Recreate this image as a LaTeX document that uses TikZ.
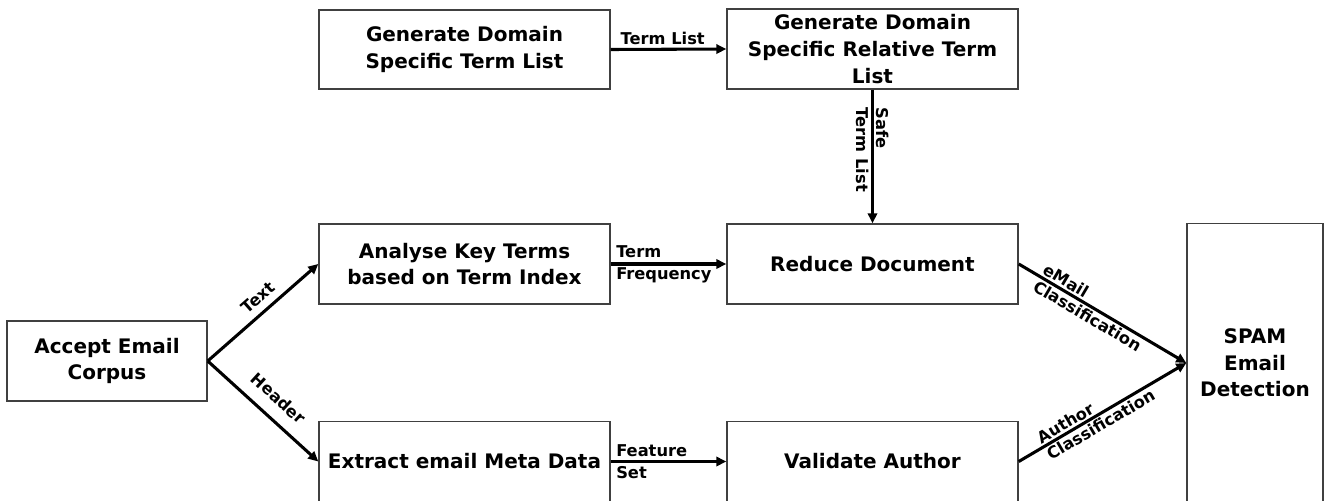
\documentclass[tikz,border=0pt]{standalone}
\usepackage{fontspec}
\setmainfont{DejaVu Sans}
\usetikzlibrary{arrows.meta}

\tikzset{
  procbox/.style={draw=black!75, line width=1.1pt, fill=white, inner sep=0pt,
    align=center, font=\fontsize{15}{20}\selectfont\bfseries},
  flow/.style={line width=2.3pt, -{Triangle[length=7.5pt,width=7pt]}},
  lbl/.style={font=\fontsize{12.2}{16.5}\selectfont\bfseries, inner sep=1pt},
  tightlbl/.style={lbl, font=\fontsize{12.2}{14.5}\selectfont\bfseries}
}

\begin{document}
\begin{tikzpicture}[x=0.75pt, y=-0.75pt]
  \useasboundingbox (0,0) rectangle (1327,500);

  % process boxes
  \node[procbox, minimum width=218.25pt, minimum height=59.25pt] (gdom) at (464.5,49.5)
    {Generate Domain\\Specific Term List};
  \node[procbox, minimum width=218.25pt, minimum height=60pt] (grel) at (872.5,49)
    {Generate Domain\\Specific Relative Term\\List};
  \node[procbox, minimum width=218.25pt, minimum height=60pt] (anal) at (464.5,264)
    {Analyse Key Terms\\based on Term Index};
  \node[procbox, minimum width=218.25pt, minimum height=60pt] (red) at (872.5,264)
    {Reduce Document};
  \node[procbox, minimum width=150pt, minimum height=60pt] (acc) at (107,361)
    {Accept Email\\Corpus};
  \node[procbox, minimum width=218.25pt, minimum height=60pt] (ext) at (464.5,461.5)
    {Extract email Meta Data};
  \node[procbox, minimum width=218.25pt, minimum height=60pt] (val) at (872.5,461.5)
    {Validate Author};
  \node[procbox, minimum width=102pt, minimum height=209pt] (spam) at (1255,363)
    {SPAM\\Email\\Detection};

  % connectors
  \draw[flow] (gdom.east) -- node[lbl, above=1pt, pos=0.45] {Term List} (grel.west);
  \draw[flow] (grel.south) -- node[tightlbl, rotate=-90, align=left, pos=0.45] {Safe\\Term List} (red.north);
  \draw[flow] (anal.east) -- node[lbl, right=2pt, align=left, pos=0] {Term\\Frequency} (red.west);
  \draw[flow] (ext.east) -- node[lbl, right=2pt, align=left, pos=0] {Feature\\Set} (val.west);
  \draw[flow] (acc.east) -- node[lbl, above=4pt, sloped, pos=0.54] {Text} (anal.west);
  \draw[flow] (acc.east) -- node[lbl, above=8pt, sloped, pos=0.52] {Header} (ext.west);
  \draw[flow] (red.east) -- node[tightlbl, sloped, align=left, pos=0.44] {eMail\\Classification} (spam.west);
  \draw[flow] (val.east) -- node[tightlbl, sloped, align=left, pos=0.46] {Author\\Classification} (spam.west);
\end{tikzpicture}
\end{document}
